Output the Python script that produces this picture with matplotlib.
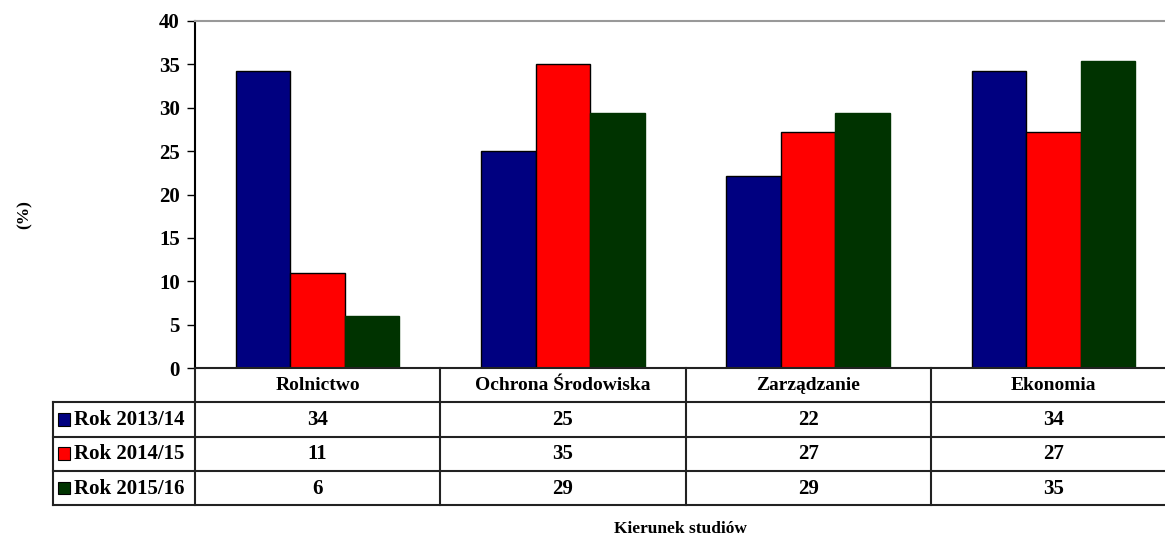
import numpy as np
import matplotlib
matplotlib.use("Agg")
import matplotlib.pyplot as plt
from matplotlib.patches import Rectangle

# data
categories = ["Rolnictwo", "Ochrona Środowiska", "Zarządzanie", "Ekonomia"]
series_names = ["Rok 2013/14", "Rok 2014/15", "Rok 2015/16"]
rok_2013 = [34.2, 25.0, 22.1, 34.2]
rok_2014 = [11.0, 35.0, 27.2, 27.2]
rok_2015 = [6.0, 29.4, 29.4, 35.4]
colors = ["#000080", "#ff0000", "#003300"]
edges = ["#000000", "#000000", "#003300"]

plt.rcParams["font.family"] = ["Liberation Serif", "DejaVu Serif"]
plt.rcParams["font.weight"] = "bold"

W, H = 1165, 535
fig = plt.figure(figsize=(W / 100, H / 100), dpi=100)

# plot area in pixels (right edge runs past the image, as in the reference)
left_px, right_px, top_px, zero_px = 195, 1176, 21, 368
ax = fig.add_axes([left_px / W, 1 - zero_px / H,
                   (right_px - left_px) / W, (zero_px - top_px) / H])

x = np.arange(len(categories))
bw = 0.222
all_series = [rok_2013, rok_2014, rok_2015]
for i, vals in enumerate(all_series):
    ax.bar(x + (i - 1) * bw, vals, width=bw, color=colors[i],
           edgecolor=edges[i], linewidth=1.0)

ax.set_xlim(-0.5, 3.5)
ax.set_ylim(0, 40)
ax.set_yticks(np.arange(0, 41, 5))
ax.set_xticks([])
ax.tick_params(axis="y", direction="out", length=6, width=1, labelsize=15, pad=5)
for lab in ax.get_yticklabels():
    lab.set_fontweight("bold")
ax.spines["left"].set_color("black")
ax.spines["left"].set_linewidth(1.5)
ax.spines["top"].set_color("#999999")
ax.spines["top"].set_linewidth(1.5)
ax.spines["right"].set_visible(False)
ax.spines["bottom"].set_visible(False)

# data table under the plot
bottom_px = 505
legend_left_px = 53
unit_px = (right_px - left_px) / 4.0
x_left = -0.5 - (left_px - legend_left_px) / unit_px
tax = fig.add_axes([legend_left_px / W, 1 - bottom_px / H,
                    (right_px - legend_left_px) / W, (bottom_px - zero_px) / H])
tax.set_xlim(x_left, 3.5)
tax.set_ylim(4, 0)
tax.axis("off")

lc = "#222222"
lw = 1.5
tax.plot([-0.5, 3.5], [0, 0], color=lc, lw=lw, clip_on=False)
for r in [1, 2, 3, 4]:
    tax.plot([x_left, 3.5], [r, r], color=lc, lw=lw, clip_on=False)
tax.plot([x_left, x_left], [1, 4], color=lc, lw=lw, clip_on=False)
for b in [-0.5, 0.5, 1.5, 2.5]:
    tax.plot([b, b], [0, 4], color=lc, lw=lw, clip_on=False)

for j, cat in enumerate(categories):
    tax.text(j, 0.52, cat, ha="center", va="center", fontsize=14,
             fontweight="bold")
for i, vals in enumerate(all_series):
    for j, v in enumerate(vals):
        tax.text(j, i + 1.52, str(int(round(v))), ha="center", va="center",
                 fontsize=15, fontweight="bold")
    sq_w = 12 / unit_px
    tax.add_patch(Rectangle((x_left + 5 / unit_px, i + 1.5 - 0.18), sq_w, 0.36,
                            facecolor=colors[i], edgecolor="black", lw=0.8))
    tax.text(x_left + 21 / unit_px, i + 1.52, series_names[i], ha="left",
             va="center", fontsize=15, fontweight="bold")

fig.text(680 / W, 1 - 529 / H, "Kierunek studiów", ha="center", va="center",
         fontsize=12.5, fontweight="bold")
fig.text(25 / W, 1 - 215 / H, "(%)", ha="center", va="center", rotation=90,
         fontsize=12.5, fontweight="bold")

fig.savefig("out.png", dpi=100, facecolor="white")
